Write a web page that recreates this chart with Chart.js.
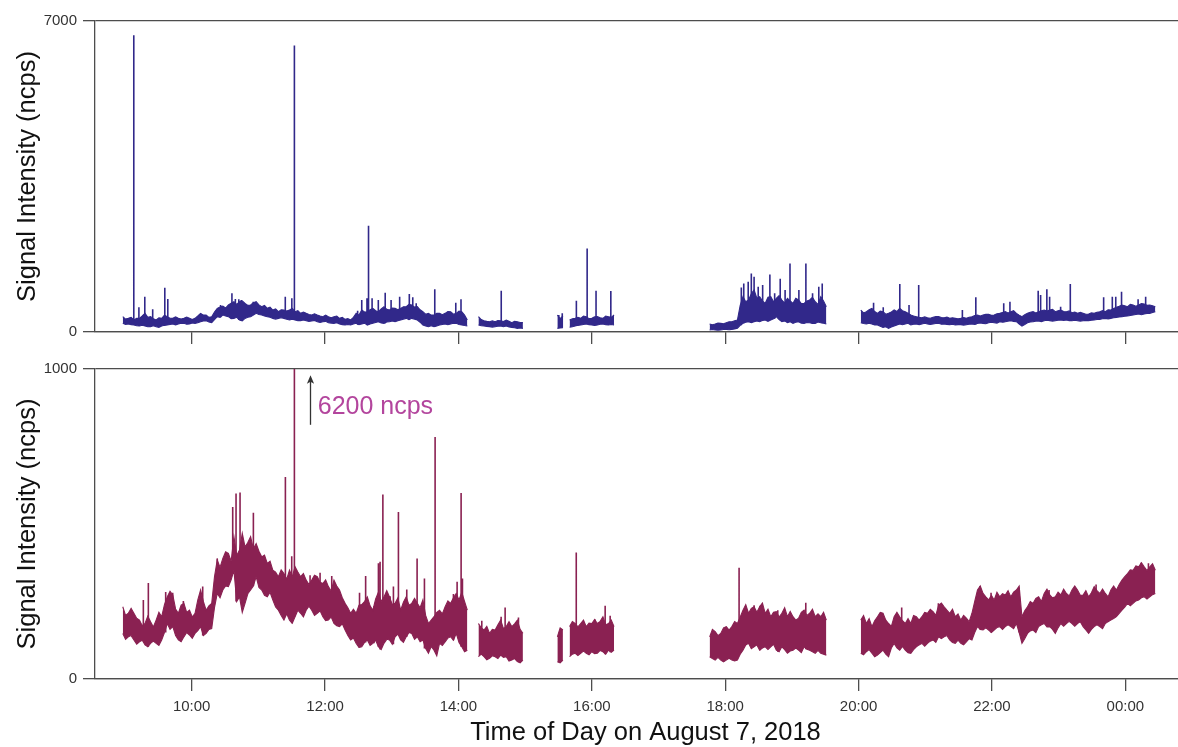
<!DOCTYPE html>
<html>
<head>
<meta charset="utf-8">
<title>Signal intensity, August 7, 2018</title>
<script src="https://cdn.jsdelivr.net/npm/chart.js@4.4.1/dist/chart.umd.min.js"></script>
<style>
  html, body { margin: 0; padding: 0; background: #fff; }
  #wrap { position: relative; width: 1178px; height: 747px; overflow: hidden; }
  #wrap canvas { position: absolute; left: 0; }
  #top-chart { top: 0; }
  #bottom-chart { top: 350px; }
</style>
</head>
<body>
<div id="wrap">
  <canvas id="top-chart" width="1178" height="350"></canvas>
  <canvas id="bottom-chart" width="1178" height="397"></canvas>
</div>
<script>
// time is minutes after midnight Aug 7; samples every 2.5 min, null = gap between runs
const STEP = 2.5;
const segStarts = [538, 858, 929, 940, 1066, 1202];
const hourTicks = [600, 720, 840, 960, 1080, 1200, 1320, 1440];

// upper instrument (0-7000 ncps), low/high envelope of the noisy trace
const topLow = [
  195,170,180,165,157,140,135,150,135,118,120,140,120,105,135,150,157,170,180,160,180,200,195,175,180,205,195,210,232,250,
  255,225,210,280,345,330,382,360,345,300,307,330,270,250,307,330,345,380,420,395,382,360,345,330,307,290,307,320,307,285,
  270,290,270,255,255,270,255,240,247,260,232,215,232,240,210,200,195,210,180,165,157,170,157,180,195,165,180,200,157,180,
  195,215,232,205,195,225,232,250,232,255,270,290,307,280,307,290,270,220,157,135,120,140,120,135,157,170,180,165,180,195,
  195,170,157,145,135,
  null, 157,140,135,125,120,110,120,130,135,120,135,115,105,95,82,90,82,
  null, 82,90,97,
  null, 105,120,135,150,157,170,180,165,157,145,157,175,180,165,157,170,157,
  null, 45,55,45,38,45,55,60,50,60,70,82,150,195,220,232,210,232,250,232,260,270,240,270,300,345,280,232,250,210,230,
  195,220,232,200,195,215,210,190,195,225,210,195,180,
  null, 210,190,180,200,180,160,157,130,105,120,82,110,135,160,180,165,180,195,157,175,180,165,180,195,180,170,180,190,
  195,175,180,170,165,175,157,165,165,155,165,175,180,170,195,205,195,185,210,220,210,200,232,220,232,245,255,240,232,180,
  135,170,210,225,232,245,247,235,255,265,255,245,255,265,270,260,270,255,255,265,255,245,255,262,255,265,270,280,285,300,
  307,295,307,320,330,340,345,355,360,372,382,395,405,390,405,415,420,440,457
];
const topHigh = [
  345,290,307,330,270,310,307,360,420,330,345,300,270,320,307,380,345,310,307,340,307,290,307,335,307,280,307,360,420,380,
  382,330,345,450,532,560,585,540,607,650,682,620,682,700,645,600,607,660,682,610,570,600,532,560,495,520,457,500,495,470,
  495,530,457,480,420,450,420,395,382,410,382,360,345,380,345,320,345,360,307,330,285,300,270,330,420,380,495,450,457,500,
  532,480,457,520,570,510,495,540,532,500,532,570,570,620,607,560,570,500,457,400,420,380,382,420,420,390,420,460,457,400,
  420,470,457,380,270,
  null, 345,280,255,240,232,250,232,260,255,235,270,240,210,240,232,215,210,
  null, 382,300,360,
  null, 270,300,307,330,307,360,345,300,307,340,345,320,307,360,345,330,382,
  null, 180,165,180,200,195,185,210,230,232,255,270,600,795,680,720,860,945,760,795,700,645,780,795,680,757,820,720,650,
  757,700,645,760,720,640,645,700,720,780,682,620,795,700,570,
  null, 495,430,457,500,532,460,420,470,457,400,420,450,495,460,532,480,457,420,382,360,345,330,322,340,322,310,330,345,
  345,325,322,335,307,320,307,295,307,325,307,330,345,370,382,360,382,400,397,375,382,410,420,440,457,430,457,480,420,380,
  345,390,420,445,457,430,457,480,495,470,495,510,457,480,495,460,457,475,435,450,420,440,420,400,405,430,420,445,457,480,
  457,500,495,530,555,580,607,590,570,620,607,580,607,640,630,600,607,590,570
];
const topSpikes = [
  [547.9, 6680], [552.5, 555], [557.8, 795], [564.9, 510], [575.8, 997], [578.5, 742], [626, 607], [636.2, 870],
  [639.3, 742], [642.4, 735], [644.6, 720], [655.4, 682], [684.2, 795], [690.1, 757], [692.4, 6450], [749.3, 480],
  [753, 720], [757.7, 757], [759.1, 2390], [762.3, 757], [767.9, 720], [774.1, 885], [779.4, 720], [787.1, 795],
  [795.8, 855], [798.9, 780], [802, 645], [818.7, 960], [837.6, 660], [842.3, 735], [878.5, 930], [930.3, 382],
  [933.4, 420], [946.1, 705], [955.8, 1882], [963.8, 930], [977.1, 922], [1094.5, 1004], [1096.7, 1094],
  [1100.7, 1132], [1103.5, 1319], [1106, 1244], [1109.7, 1019], [1113.7, 1057], [1120.2, 1297], [1124.5, 870],
  [1129.5, 1199], [1133.9, 945], [1138.3, 1544], [1146.3, 945], [1152.6, 1544], [1158.6, 870], [1164.2, 1019],
  [1167.3, 1094], [1213.5, 660], [1222.2, 555], [1237.1, 1079], [1245.4, 607], [1254.1, 1057], [1293.4, 495],
  [1305.5, 780], [1330.6, 645], [1336.2, 682], [1361.6, 930], [1363.8, 832], [1369.4, 960], [1371.9, 795],
  [1381.8, 570], [1390.5, 1079], [1420.5, 780], [1428.3, 795], [1431.4, 795], [1436.6, 907], [1451.5, 735],
  [1458.3, 795]
];

// lower instrument (0-1000 ncps); one spike runs off the top of the axis
const clippedPeak = 6200;
const bottomLow = [
  147,128,136,140,126,112,120,125,110,104,115,122,115,108,126,150,179,160,169,140,126,120,136,150,142,131,147,156,169,140,
  147,160,163,230,276,262,287,300,298,320,351,250,265,215,244,275,287,300,330,295,287,270,265,280,255,232,222,205,190,210,
  190,180,201,222,212,200,222,235,222,205,212,220,201,188,190,200,179,172,169,178,158,140,126,132,115,102,104,118,126,108,
  115,125,104,95,115,128,126,112,136,145,126,118,136,150,147,128,136,120,126,98,83,105,93,75,115,108,120,132,136,125,
  147,118,104,88,93,
  null, 72,80,72,62,67,75,72,66,77,70,72,58,61,66,56,52,61,
  null, 56,52,61,
  null, 72,80,83,76,83,90,83,78,88,82,83,92,88,80,93,86,93,
  null, 72,66,61,70,61,55,61,67,61,58,61,80,93,110,115,98,104,110,93,100,104,95,104,112,93,88,104,95,83,90,
  93,100,93,85,104,96,93,88,83,92,83,80,77,
  null, 83,78,88,95,83,72,77,85,93,80,72,100,115,100,93,105,93,85,83,95,104,110,115,106,115,122,126,118,136,130,
  136,140,126,118,115,125,115,110,120,130,126,150,169,160,158,165,158,150,158,166,169,160,169,175,169,162,179,150,115,130,
  147,155,158,150,169,175,179,168,169,160,147,165,179,170,179,186,179,170,179,185,169,158,147,160,169,175,169,162,179,185,
  190,195,201,212,222,232,244,236,244,252,255,262,265,258,265,272,276
];
const bottomHigh = [
  233,205,212,228,212,196,190,172,179,203,185,168,190,215,201,240,265,283,271,226,212,238,244,215,222,200,212,255,287,250,
  222,236,244,330,384,360,389,410,405,380,459,398,416,470,426,440,459,420,437,412,394,400,373,380,351,345,330,352,340,322,
  351,330,362,345,330,340,319,305,319,335,330,312,308,320,298,284,319,300,287,262,244,230,212,225,212,238,240,250,265,236,
  222,258,280,250,265,285,265,240,244,262,222,248,265,238,244,260,244,230,255,205,179,190,201,215,222,210,233,252,244,262,
  276,255,280,250,222,
  null, 179,165,158,170,147,160,158,175,190,162,169,185,169,178,190,160,147,
  null, 136,165,158,
  null, 169,185,179,168,179,190,169,180,179,192,179,186,201,175,179,190,169,
  null, 136,160,153,140,147,165,169,158,169,185,179,200,222,240,212,228,233,215,233,245,212,225,201,215,217,200,212,230,
  201,218,201,190,196,215,222,205,212,225,201,210,201,215,190,
  null, 190,205,179,195,169,188,201,215,212,190,179,170,201,215,201,188,179,195,179,205,201,190,201,215,212,225,217,205,
  238,245,233,222,212,225,201,210,190,205,196,185,212,250,287,300,276,265,255,270,255,280,265,275,271,285,265,280,287,300,
  201,220,233,250,244,260,265,250,276,290,271,262,265,280,271,290,276,268,287,300,287,270,271,285,265,278,298,285,276,290,
  276,265,287,300,287,305,319,330,340,352,351,365,362,375,362,350,362,372,351
];
const bottomSpikes = [
  [556.5, 255], [561, 310], [576.6, 281], [582.9, 278], [592.5, 252], [609.9, 298], [623, 389], [636.9, 555],
  [639.9, 598], [643.5, 602], [655.5, 536], [684.3, 652], [690, 396], [692.4, clippedPeak], [706.5, 335],
  [715.5, 343], [726, 332], [751, 278], [756.5, 332], [764, 235], [768, 373], [769.5, 378], [772, 595],
  [778.5, 267], [781.5, 298], [786, 539], [793.5, 289], [802.8, 389], [809.4, 324], [819, 781], [835.5, 274],
  [838.8, 314], [842.4, 600], [843.6, 324], [861, 188], [878.4, 201], [882, 231], [894, 198], [946, 408],
  [963, 192], [972, 236], [976.5, 204], [1092.5, 359], [1097.3, 219], [1106, 238], [1111.4, 236], [1127.3, 222],
  [1152.5, 246], [1220.9, 212], [1238.8, 231], [1271.8, 244], [1309.3, 300], [1319.2, 278], [1344.4, 294],
  [1371.4, 287], [1413.7, 305], [1454.2, 375], [1460.8, 373]
];

// arrow + label pointing at the clipped spike (data units of the lower panel)
const noteArrow = { t: 706.5, from: 820, to: 980 };
const noteText = { t: 713.4, v: 877, text: clippedPeak + ' ncps' };

const X_MIN = 513, X_MAX = 1487.4;
const AXIS = '#4d4d4d';
const FONT = '"Liberation Sans", Arial, Helvetica, sans-serif';

function bandPoints(values) {
  const pts = [];
  let seg = 0, i = 0;
  values.forEach(v => {
    if (v === null) {
      pts.push({ x: segStarts[seg] + i * STEP, y: null });
      seg++;
      i = 0;
      return;
    }
    pts.push({ x: segStarts[seg] + i * STEP, y: v });
    i++;
  });
  return pts;
}

// each spike is a vertical stroke rising from the nearest low sample
function spikePoints(spikes, low) {
  const pts = [];
  spikes.forEach(([t, peak]) => {
    let base = 0, best = Infinity;
    low.forEach(p => {
      if (p.y !== null && Math.abs(p.x - t) < best) { best = Math.abs(p.x - t); base = p.y; }
    });
    pts.push({ x: t, y: base }, { x: t, y: peak }, { x: t, y: null });
  });
  return pts;
}

function clock(v) {
  const h = Math.floor(v / 60) % 24;
  return (h < 10 ? '0' : '') + h + ':00';
}

const noteArrowPlugin = {
  id: 'noteArrow',
  afterDatasetsDraw(chart) {
    const { ctx, scales: { x, y } } = chart;
    const ax = Math.round(x.getPixelForValue(noteArrow.t)) + 0.5;
    const y0 = y.getPixelForValue(noteArrow.from);
    const y1 = y.getPixelForValue(noteArrow.to);
    ctx.save();
    ctx.strokeStyle = '#333';
    ctx.fillStyle = '#333';
    ctx.lineWidth = 1.3;
    ctx.beginPath();
    ctx.moveTo(ax, y0);
    ctx.lineTo(ax, y1 + 4);
    ctx.stroke();
    ctx.beginPath();
    ctx.moveTo(ax, y1);
    ctx.lineTo(ax - 3.6, y1 + 8.5);
    ctx.lineTo(ax, y1 + 6.5);
    ctx.lineTo(ax + 3.6, y1 + 8.5);
    ctx.closePath();
    ctx.fill();
    ctx.font = '25px ' + FONT;
    ctx.fillStyle = '#b3459d';
    ctx.textBaseline = 'middle';
    ctx.textAlign = 'left';
    ctx.fillText(noteText.text, x.getPixelForValue(noteText.t), y.getPixelForValue(noteText.v));
    ctx.restore();
  }
};

const xTitlePlugin = {
  id: 'xTitle',
  afterDraw(chart) {
    const { ctx, chartArea } = chart;
    ctx.save();
    ctx.font = '25.5px ' + FONT;
    ctx.fillStyle = '#111';
    ctx.textAlign = 'center';
    ctx.textBaseline = 'middle';
    ctx.fillText('Time of Day on August 7, 2018', (chartArea.left + chartArea.right) / 2 + 9, chart.height - 14);
    ctx.restore();
  }
};

function panel(canvasId, cfg) {
  const low = bandPoints(cfg.low);
  const high = bandPoints(cfg.high);
  return new Chart(document.getElementById(canvasId), {
    type: 'line',
    data: {
      datasets: [
        { data: high, borderColor: cfg.color, backgroundColor: cfg.color, borderWidth: 1.1, fill: '+1' },
        { data: low, borderColor: cfg.color, borderWidth: 1.1, fill: false },
        { data: spikePoints(cfg.spikes, low), borderColor: cfg.color, borderWidth: 1.6, fill: false }
      ]
    },
    options: {
      responsive: false,
      animation: false,
      events: [],
      elements: { point: { radius: 0 }, line: { tension: 0 } },
      layout: { padding: { top: cfg.padTop, left: 0, right: 0, bottom: 0 } },
      plugins: { legend: { display: false }, tooltip: { enabled: false } },
      scales: {
        x: {
          type: 'linear',
          min: X_MIN,
          max: X_MAX,
          afterBuildTicks: s => { s.ticks = hourTicks.map(v => ({ value: v })); },
          afterFit: s => { s.height = cfg.xHeight; },
          grid: { drawOnChartArea: false, color: AXIS, lineWidth: 1.3, tickLength: 12 },
          border: { color: AXIS, width: 1.3 },
          ticks: {
            display: cfg.xLabels,
            autoSkip: false,
            maxRotation: 0,
            padding: 7,
            color: '#333',
            font: { family: FONT, size: 15 },
            callback: v => clock(v)
          }
        },
        y: {
          min: 0,
          max: cfg.yMax,
          afterBuildTicks: s => { s.ticks = [{ value: 0 }, { value: cfg.yMax }]; },
          afterFit: s => { s.width = 95; },
          grid: { color: AXIS, lineWidth: 1.3, tickLength: 12 },
          border: { color: AXIS, width: 1.3 },
          ticks: { padding: 6, color: '#333', font: { family: FONT, size: 15 }, callback: v => String(v) },
          title: {
            display: true,
            text: 'Signal Intensity (ncps)',
            color: '#111',
            font: { family: FONT, size: 25.5, lineHeight: 1 },
            padding: { top: 15, bottom: 0 }
          }
        }
      }
    },
    plugins: cfg.plugins || []
  });
}

panel('top-chart', {
  low: topLow, high: topHigh, spikes: topSpikes, color: '#31288a',
  yMax: 7000, padTop: 21, xHeight: 18, xLabels: false
});

panel('bottom-chart', {
  low: bottomLow, high: bottomHigh, spikes: bottomSpikes, color: '#8a2152',
  yMax: 1000, padTop: 19, xHeight: 68, xLabels: true,
  plugins: [noteArrowPlugin, xTitlePlugin]
});
</script>
</body>
</html>
